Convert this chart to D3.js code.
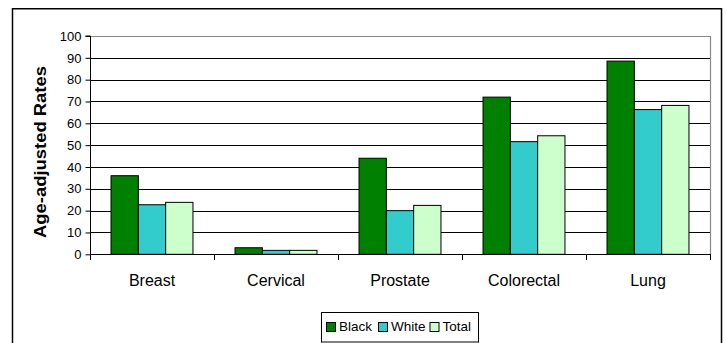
<!DOCTYPE html>
<html><head><meta charset="utf-8">
<script src="https://cdn.jsdelivr.net/npm/d3@7"></script>
<style>
body{margin:0;background:#fff;}
svg{display:block;font-family:Arial,"Liberation Sans",sans-serif;}
</style></head>
<body><svg id="c" width="727" height="343"></svg>
<script>
const categories = ["Breast","Cervical","Prostate","Colorectal","Lung"];
const seriesNames = ["Black","White","Total"];
const blackValues = [36, 3, 44, 72, 88.5];
const whiteValues = [22.7, 1.8, 20, 51.6, 66.3];
const totalValues = [23.8, 1.8, 22.4, 54.3, 68.2];
const yTicks = [0,10,20,30,40,50,60,70,80,90,100];
const seriesColors = ["#008000","#33CCCC","#CCFFCC"];
const yLabel = "Age-adjusted Rates";

const svgEl = d3.select("#c");
const values = [blackValues, whiteValues, totalValues];

const m = {left: 90, right: 710, top: 36, bottom: 254.3};

// outer frame
svgEl.append("rect").attr("x",12.5).attr("y",8.75).attr("width",709).attr("height",400)
  .attr("fill","#fff").attr("stroke","#000").attr("stroke-width",1.5);

const x0 = d3.scaleBand().domain(categories).range([m.left, m.right]).padding(0);
const x1 = d3.scaleBand().domain(seriesNames).range([0, x0.bandwidth()]).paddingInner(0).paddingOuter(0.77);
const y = d3.scaleLinear().domain([0,100]).range([m.bottom, m.top]);

// gridlines
svgEl.append("g").selectAll("line").data(yTicks.filter(t=>t>0 && t<100)).join("line")
  .attr("x1",m.left).attr("x2",m.right).attr("y1",d=>Math.round(y(d))+0.5).attr("y2",d=>Math.round(y(d))+0.5)
  .attr("stroke","#000").attr("stroke-width",1);

// plot area top/right border
svgEl.append("path")
  .attr("d",`M${m.left},${Math.round(y(100))+0.5}H${m.right+0.5}V${m.bottom}`)
  .attr("fill","none").attr("stroke","#888").attr("stroke-width",1.2);

// bars
const g = svgEl.append("g");
seriesNames.forEach((s,si)=>{
  g.append("g").selectAll("rect").data(categories).join("rect")
    .attr("x",(c)=>x0(c)+x1(s))
    .attr("width",x1.bandwidth())
    .attr("y",(c,i)=>y(values[si][i]))
    .attr("height",(c,i)=>y(0)-y(values[si][i]))
    .attr("fill",seriesColors[si]).attr("stroke","#000").attr("stroke-width",1);
});

// y axis
const yAxis = d3.axisLeft(y).tickValues(yTicks).tickSize(5).tickPadding(4).tickFormat(d3.format("d"));
const ya = svgEl.append("g").attr("transform",`translate(${m.left+0.5},0)`).call(yAxis);
ya.select(".domain").attr("stroke","#000").attr("d",`M-5,${y(100)}H0V${y(0)}`);
ya.selectAll("text").attr("font-size","13px").attr("fill","#000").attr("font-family","Arial, Liberation Sans, sans-serif");
ya.selectAll(".tick line").attr("stroke","#000");

// x axis
const boundaries = categories.map(c=>x0(c)).concat([m.right]);
const xa = svgEl.append("g");
xa.append("line").attr("x1",m.left).attr("x2",m.right+0.5).attr("y1",Math.round(y(0))+0.5).attr("y2",Math.round(y(0))+0.5).attr("stroke","#000");
xa.selectAll("line.tk").data(boundaries).join("line").attr("class","tk")
  .attr("x1",d=>Math.round(d)+0.5).attr("x2",d=>Math.round(d)+0.5)
  .attr("y1",Math.round(y(0))).attr("y2",Math.round(y(0))+6).attr("stroke","#000");
xa.selectAll("text").data(categories).join("text")
  .attr("x",d=>x0(d)+x0.bandwidth()/2).attr("y",286)
  .attr("text-anchor","middle").attr("font-size","16px").attr("fill","#000").text(d=>d);

// y label
svgEl.append("text").attr("transform","translate(46,152) rotate(-90)")
  .attr("text-anchor","middle").attr("font-size","17px").attr("font-weight","bold")
  .attr("textLength",172).attr("lengthAdjust","spacingAndGlyphs").text(yLabel);

// legend
const lg = svgEl.append("g");
lg.append("rect").attr("x",321.5).attr("y",312.5).attr("width",157).attr("height",29.5)
  .attr("fill","#fff").attr("stroke","#000").attr("stroke-width",1);
const legendX = [326, 378, 429.5];
seriesNames.forEach((s,i)=>{
  lg.append("rect").attr("x",legendX[i]+0.5).attr("y",322.5).attr("width",9).attr("height",9)
    .attr("fill",seriesColors[i]).attr("stroke","#000");
  lg.append("text").attr("x",legendX[i]+13).attr("y",331).attr("font-size","13.5px").attr("fill","#000").text(s);
});
</script></body></html>
